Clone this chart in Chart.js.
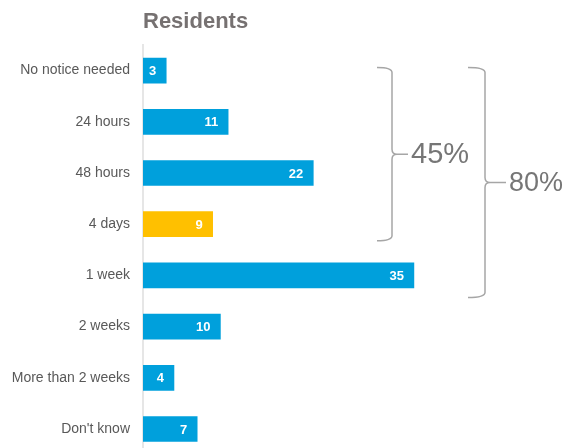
<!DOCTYPE html>
<html>
<head>
<meta charset="utf-8">
<script src="https://cdn.jsdelivr.net/npm/chart.js@4.4.0/dist/chart.umd.min.js"></script>
<style>
  html, body { margin: 0; padding: 0; background: #fff; overflow: hidden; }
  #wrap { width: 569px; height: 448px; overflow: hidden; }
</style>
</head>
<body>
<div id="wrap"><canvas id="chart" width="569" height="476"></canvas></div>
<script>
// chart data
const categories = ["No notice needed", "24 hours", "48 hours", "4 days", "1 week", "2 weeks", "More than 2 weeks", "Don't know"];
const residents = [3, 11, 22, 9, 35, 10, 4, 7];
const barColors = ["#00a0dc", "#00a0dc", "#00a0dc", "#ffc000", "#00a0dc", "#00a0dc", "#00a0dc", "#00a0dc"];
const chartTitle = "Residents";
// brace groups: first and last category index covered, and the share shown
const braceRanges = [[0, 3], [0, 4]];
const braceLabels = ["45%", "80%"];

const FONT = "'Liberation Sans', Arial, sans-serif";

const extrasPlugin = {
  id: "extras",
  afterDatasetsDraw(chart) {
    const ctx = chart.ctx;
    const area = chart.chartArea;
    const yScale = chart.scales.y;

    // value labels inside bar ends
    ctx.save();
    ctx.fillStyle = "#ffffff";
    ctx.font = "bold 13px " + FONT;
    ctx.textAlign = "right";
    ctx.textBaseline = "middle";
    chart.getDatasetMeta(0).data.forEach((bar, i) => {
      ctx.fillText(String(residents[i]), bar.x - 10, bar.y + 1);
    });
    ctx.restore();

    // title
    ctx.save();
    ctx.fillStyle = "#767171";
    ctx.font = "bold 22px " + FONT;
    ctx.textAlign = "left";
    ctx.textBaseline = "alphabetic";
    ctx.fillText(chartTitle, area.left, 28);
    ctx.restore();

    // braces
    const braceX = [392, 485];
    const bottomExtra = [16.5, 22];
    braceRanges.forEach((range, k) => {
      const top = yScale.getPixelForValue(range[0]) - 3;
      const bottom = yScale.getPixelForValue(range[1]) + bottomExtra[k];
      const x = braceX[k];
      const hook = k === 0 ? 15 : 17;
      const tip = k === 0 ? 16 : 21;
      const mid = (top + bottom) / 2;
      const r = 5;
      ctx.save();
      ctx.strokeStyle = "#a6a6a6";
      ctx.lineWidth = 1.5;
      ctx.beginPath();
      ctx.moveTo(x - hook, top);
      ctx.quadraticCurveTo(x, top, x, top + r);
      ctx.lineTo(x, mid - r);
      ctx.quadraticCurveTo(x, mid, x + r, mid);
      ctx.lineTo(x + tip, mid);
      ctx.moveTo(x + r, mid);
      ctx.quadraticCurveTo(x, mid, x, mid + r);
      ctx.lineTo(x, bottom - r);
      ctx.quadraticCurveTo(x, bottom, x - hook, bottom);
      ctx.stroke();

      ctx.fillStyle = "#767676";
      ctx.font = (k === 0 ? "29px " : "27px ") + FONT;
      ctx.textAlign = "left";
      ctx.textBaseline = "middle";
      ctx.fillText(braceLabels[k], x + tip + 3, mid + 1);
      ctx.restore();
    });
  }
};

new Chart(document.getElementById("chart"), {
  type: "bar",
  data: {
    labels: categories,
    datasets: [
      {
        label: chartTitle,
        data: residents,
        backgroundColor: barColors,
        borderWidth: 0,
        barThickness: 25,
      },
    ],
  },
  options: {
    indexAxis: "y",
    responsive: false,
    animation: false,
    layout: { padding: { top: 45, right: 39, bottom: 0, left: 0 } },
    plugins: {
      legend: { display: false },
      title: { display: false },
      tooltip: { enabled: false },
    },
    scales: {
      x: {
        display: false,
        min: 0,
        max: 50,
      },
      y: {
        afterFit(scale) { scale.width = 143; },
        grid: { display: false, drawTicks: false },
        border: { display: true, color: "#e6e6e6", width: 2 },
        ticks: {
          color: "#595959",
          padding: 13,
          font: { family: FONT, size: 14 },
        },
      },
    },
  },
  plugins: [extrasPlugin],
});
</script>
</body>
</html>
